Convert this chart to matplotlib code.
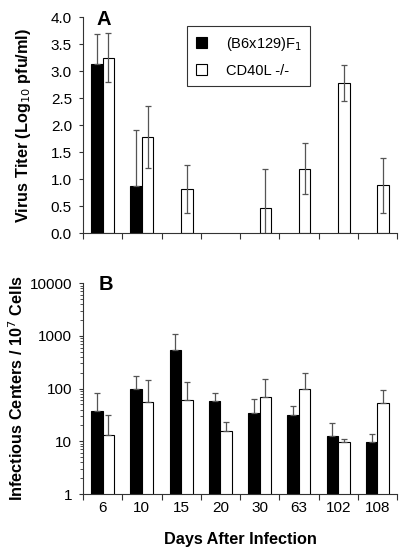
import matplotlib
matplotlib.use("Agg")
import matplotlib.pyplot as plt
import numpy as np
from matplotlib.ticker import NullFormatter, LogLocator

plt.rcParams['font.family'] = ['Liberation Sans', 'DejaVu Sans']

days = ["6", "10", "15", "20", "30", "63", "102", "108"]
series_names = ["(B6x129)F$_1$", "CD40L -/-"]

# Panel A: virus titer (log10 pfu/ml)
titer_f1 = [3.14, 0.87, 0, 0, 0, 0, 0, 0]
titer_f1_err = [0.55, 1.04, 0, 0, 0, 0, 0, 0]
titer_ko = [3.25, 1.78, 0.82, 0, 0.47, 1.20, 2.78, 0.89]
titer_ko_err = [0.45, 0.57, 0.44, 0, 0.73, 0.47, 0.33, 0.51]

# Panel B: infectious centers / 10^7 cells
ic_f1 = [38, 98, 540, 57, 35, 32, 12.5, 9.7]
ic_f1_err = [44, 78, 530, 26, 28, 15, 10, 3.9]
ic_ko = [13, 56, 60, 16, 70, 100, 9.8, 53]
ic_ko_err = [19, 90, 75, 7, 80, 95, 1.2, 41]

W, H = 408, 555
fig = plt.figure(figsize=(W / 100, H / 100), dpi=100)
axA = fig.add_axes([83 / W, 1 - 233.3 / H, 314 / W, 216 / H])
axB = fig.add_axes([83 / W, 1 - 494 / H, 314 / W, 210.8 / H])

x = np.arange(len(days))
w = 0.29
errc = '#555555'
ekw = dict(ecolor=errc, elinewidth=0.9, capsize=2.5, capthick=0.9)
TICK_FS = 11
LAB_FS = 11.7

def style(ax):
    ax.spines['top'].set_visible(False)
    ax.spines['right'].set_visible(False)
    ax.spines['left'].set_color('#333333')
    ax.spines['bottom'].set_color('#333333')
    ax.set_xlim(-0.5, len(days) - 0.5)
    ax.set_xticks(np.arange(-0.5, len(days)), labels=[])
    ax.tick_params(axis='x', which='major', length=4, direction='out', color='#333333')
    ax.tick_params(axis='y', which='major', length=3, direction='out', labelsize=TICK_FS,
                   color='#333333', pad=5)

# Panel A
f1 = np.array(titer_f1); f1e = np.array(titer_f1_err)
ko = np.array(titer_ko); koe = np.array(titer_ko_err)
m = f1 > 0
axA.bar(x[m] - w/2, f1[m], w, color='black', edgecolor='black', linewidth=0.8, label=series_names[0])
axA.errorbar(x[m] - w/2, f1[m], yerr=[np.zeros(m.sum()), f1e[m]], fmt='none', **ekw)
m2 = ko > 0
axA.bar(x[m2] + w/2, ko[m2], w, color='white', edgecolor='black', linewidth=0.8, label=series_names[1])
axA.errorbar(x[m2] + w/2, ko[m2], yerr=koe[m2], fmt='none', **ekw)
axA.set_ylim(0, 4.0)
yt = np.arange(0, 4.01, 0.5)
axA.set_yticks(yt)
axA.set_yticklabels([f"{v:.1f}" for v in yt])
style(axA)
axA.set_ylabel("Virus Titer (Log$_{10}$ pfu/ml)", fontsize=LAB_FS, fontweight='bold')
axA.yaxis.set_label_coords(-0.158, 0.5)
axA.text(0.036, 3.96, "A", fontsize=14.5, fontweight='bold', ha='center', va='center')
leg = axA.legend(loc='upper left', bbox_to_anchor=(187 / W, 1 - 26 / H), bbox_transform=fig.transFigure,
                 borderaxespad=0, frameon=True, fancybox=False,
                 edgecolor='black', fontsize=10.5, handlelength=0.75, handleheight=0.75,
                 handletextpad=1.3, borderpad=0.6, labelspacing=0.75)
leg.get_frame().set_linewidth(0.8)

# Panel B
axB.bar(x - w/2, ic_f1, w, color='black', edgecolor='black', linewidth=0.8)
axB.errorbar(x - w/2, ic_f1, yerr=[np.zeros(len(days)), ic_f1_err], fmt='none', **ekw)
axB.bar(x + w/2, ic_ko, w, color='white', edgecolor='black', linewidth=0.8)
axB.errorbar(x + w/2, ic_ko, yerr=[np.zeros(len(days)), ic_ko_err], fmt='none', **ekw)
axB.set_yscale('log')
axB.set_ylim(1, 10000)
axB.set_yticks([1, 10, 100, 1000, 10000])
axB.set_yticklabels(["1", "10", "100", "1000", "10000"])
axB.yaxis.set_minor_locator(LogLocator(base=10, subs=np.arange(2, 10)))
axB.yaxis.set_minor_formatter(NullFormatter())
style(axB)
axB.tick_params(axis='y', which='minor', length=2, direction='out', color='#333333')
axB.set_xticks(x, minor=True)
axB.set_xticklabels(days, minor=True, fontsize=TICK_FS)
axB.tick_params(axis='x', which='minor', length=0, pad=5)
axB.set_ylabel("Infectious Centers / 10$^7$ Cells", fontsize=LAB_FS, fontweight='bold')
axB.yaxis.set_label_coords(-0.182, 0.5)
axB.set_xlabel("Days After Infection", fontsize=LAB_FS, fontweight='bold', labelpad=12)
axB.text(0.087, 10**3.98, "B", fontsize=14.5, fontweight='bold', ha='center', va='center')

fig.savefig("out.png", dpi=100)
